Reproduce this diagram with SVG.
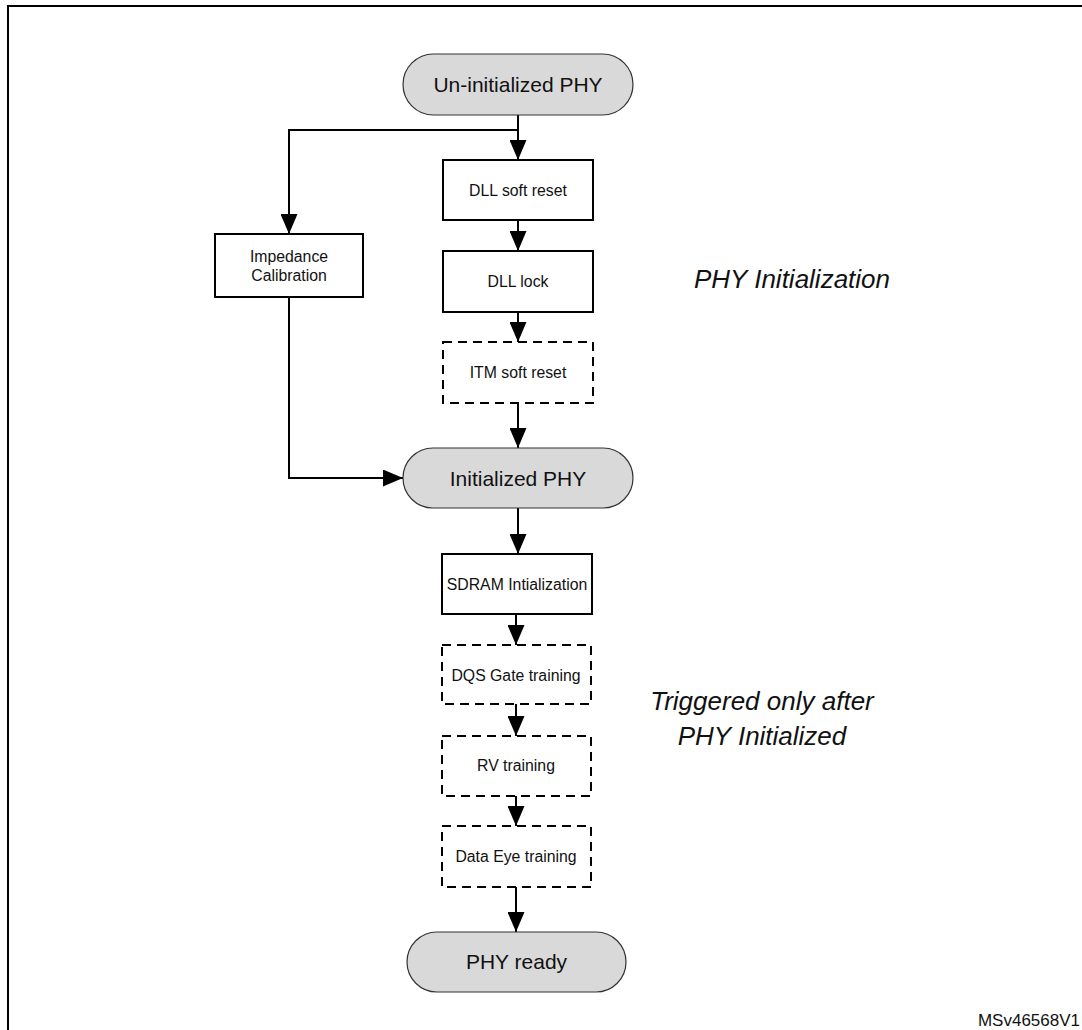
<svg xmlns="http://www.w3.org/2000/svg" width="1082" height="1030" viewBox="0 0 1082 1030">
  <style>
    text { font-family: "Liberation Sans", Arial, sans-serif; fill: #111; text-anchor: middle; }
    .pill { fill: #d9d9d9; stroke: #333; stroke-width: 1.2; }
    .box { fill: #fff; stroke: #000; stroke-width: 2; }
    .dash { fill: #fff; stroke: #000; stroke-width: 2; stroke-dasharray: 9 6; }
    .pill-label { font-size: 21px; }
    .box-label { font-size: 15.8px; }
    .note { font-size: 26px; font-style: italic; }
    .wire { fill: none; stroke: #000; stroke-width: 2; }
    .frame { fill: none; stroke: #000; stroke-width: 2; }
  </style>
  <defs>
    <marker id="head" markerUnits="userSpaceOnUse" markerWidth="20" markerHeight="17" refX="20" refY="8.5" orient="auto">
      <path d="M0,0 L20,8.5 L0,17 z" fill="#000"/>
    </marker>
  </defs>

  <rect width="1082" height="1030" fill="#fff"/>
  <!-- page frame: top and left rules -->
  <path class="frame" d="M8,1030 L8,6 L1082,6"/>

  <g id="connectors">
    <path class="wire" marker-end="url(#head)" d="M518,115 L518,160"/>
    <path class="wire" marker-end="url(#head)" d="M518,130 L289,130 L289,234"/>
    <path class="wire" marker-end="url(#head)" d="M518,220 L518,251"/>
    <path class="wire" marker-end="url(#head)" d="M518,312 L518,342"/>
    <path class="wire" marker-end="url(#head)" d="M518,403 L518,448"/>
    <path class="wire" marker-end="url(#head)" d="M289,297 L289,478 L403,478"/>
    <path class="wire" marker-end="url(#head)" d="M518,508 L518,554"/>
    <path class="wire" marker-end="url(#head)" d="M516,614 L516,645"/>
    <path class="wire" marker-end="url(#head)" d="M516,704 L516,736"/>
    <path class="wire" marker-end="url(#head)" d="M516,796 L516,826"/>
    <path class="wire" marker-end="url(#head)" d="M516,887 L516,932"/>
  </g>

  <g id="uninitialized-phy">
    <rect class="pill" x="403" y="54" width="230" height="61" rx="30.5"/>
    <text class="pill-label" x="518" y="92">Un-initialized PHY</text>
  </g>
  <g id="dll-soft-reset">
    <rect class="box" x="443" y="160" width="150" height="60"/>
    <text class="box-label" x="518" y="196">DLL soft reset</text>
  </g>
  <g id="impedance-calibration">
    <rect class="box" x="215" y="234" width="148" height="63"/>
    <text class="box-label" x="289" y="262">Impedance</text>
    <text class="box-label" x="289" y="281">Calibration</text>
  </g>
  <g id="dll-lock">
    <rect class="box" x="443" y="251" width="150" height="61"/>
    <text class="box-label" x="518" y="287">DLL lock</text>
  </g>
  <g id="itm-soft-reset">
    <rect class="dash" x="443" y="342" width="150" height="61"/>
    <text class="box-label" x="518" y="378">ITM soft reset</text>
  </g>
  <g id="initialized-phy">
    <rect class="pill" x="403" y="448" width="230" height="60" rx="30"/>
    <text class="pill-label" x="518" y="486">Initialized PHY</text>
  </g>
  <g id="sdram-initialization">
    <rect class="box" x="442" y="554" width="150" height="60"/>
    <text class="box-label" x="517" y="590">SDRAM Intialization</text>
  </g>
  <g id="dqs-gate-training">
    <rect class="dash" x="442" y="645" width="149" height="59"/>
    <text class="box-label" x="516" y="681">DQS Gate training</text>
  </g>
  <g id="rv-training">
    <rect class="dash" x="442" y="736" width="149" height="60"/>
    <text class="box-label" x="516" y="771">RV training</text>
  </g>
  <g id="data-eye-training">
    <rect class="dash" x="442" y="826" width="149" height="61"/>
    <text class="box-label" x="516" y="862">Data Eye training</text>
  </g>
  <g id="phy-ready">
    <rect class="pill" x="407" y="932" width="219" height="60" rx="30"/>
    <text class="pill-label" x="516.5" y="969">PHY ready</text>
  </g>

  <g id="annotations">
    <text class="note" x="792" y="288">PHY Initialization</text>
    <text class="note" x="762" y="710">Triggered only after</text>
    <text class="note" x="762" y="745">PHY Initialized</text>
    <text x="1080" y="1026" style="font-size:17px;text-anchor:end">MSv46568V1</text>
  </g>
</svg>
